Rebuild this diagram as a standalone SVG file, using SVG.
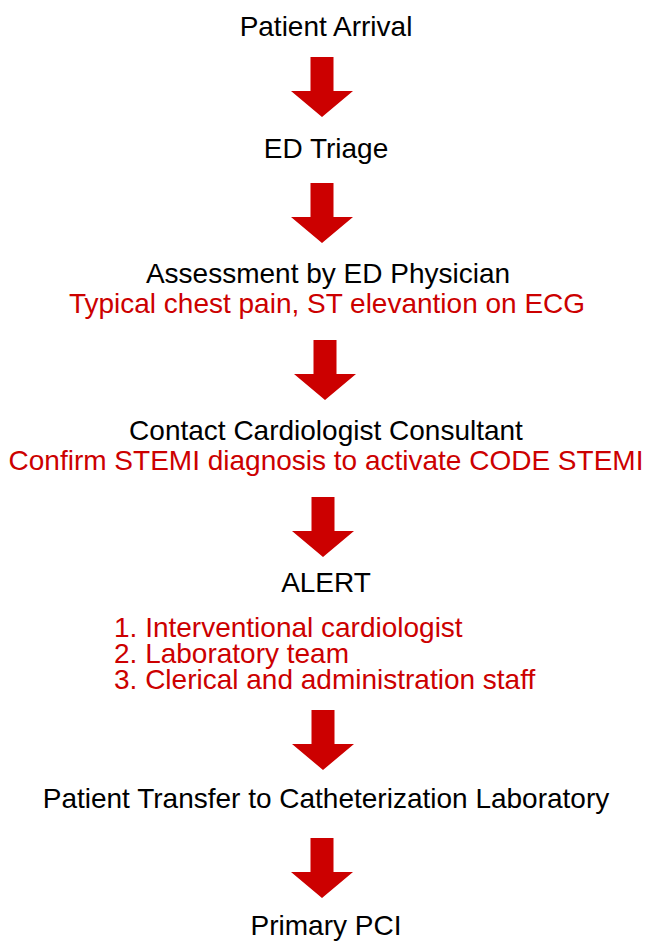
<svg xmlns="http://www.w3.org/2000/svg" width="645" height="943" viewBox="0 0 645 943">
<defs>
<style>
text{font-family:"Liberation Sans",Arial,sans-serif;font-size:28px;}
.t{fill:#000;text-anchor:middle;}
.r{fill:#cc0000;text-anchor:middle;}
.l{fill:#cc0000;}
.a{fill:#cc0000;}
</style>
<path id="arr" d="M-11.5,0 H11.5 V34 H31 L0,60 L-31,34 H-11.5 Z"/>
</defs>
<rect width="645" height="943" fill="#fff"/>
<g id="n1"><text class="t" x="326" y="36">Patient Arrival</text></g>
<g id="n2"><text class="t" x="326" y="158">ED Triage</text></g>
<g id="n3"><text class="t" x="328" y="283">Assessment by ED Physician</text><text class="r" x="327" y="313">Typical chest pain, ST elevantion on ECG</text></g>
<g id="n4"><text class="t" x="326" y="440">Contact Cardiologist Consultant</text><text class="r" x="326" y="470">Confirm STEMI diagnosis to activate CODE STEMI</text></g>
<g id="n5"><text class="t" x="326" y="592">ALERT</text><text class="l" x="114" y="637">1. Interventional cardiologist</text><text class="l" x="114" y="663">2. Laboratory team</text><text class="l" x="114" y="689">3. Clerical and administration staff</text></g>
<g id="n6"><text class="t" x="326" y="808">Patient Transfer to Catheterization Laboratory</text></g>
<g id="n7"><text class="t" x="326" y="935">Primary PCI</text></g>
<g id="connectors" class="a">
<use href="#arr" x="322" y="57"/>
<use href="#arr" x="322" y="183"/>
<use href="#arr" x="325" y="340"/>
<use href="#arr" x="323" y="497"/>
<use href="#arr" x="323" y="710"/>
<use href="#arr" x="322" y="838"/>
</g>
</svg>
